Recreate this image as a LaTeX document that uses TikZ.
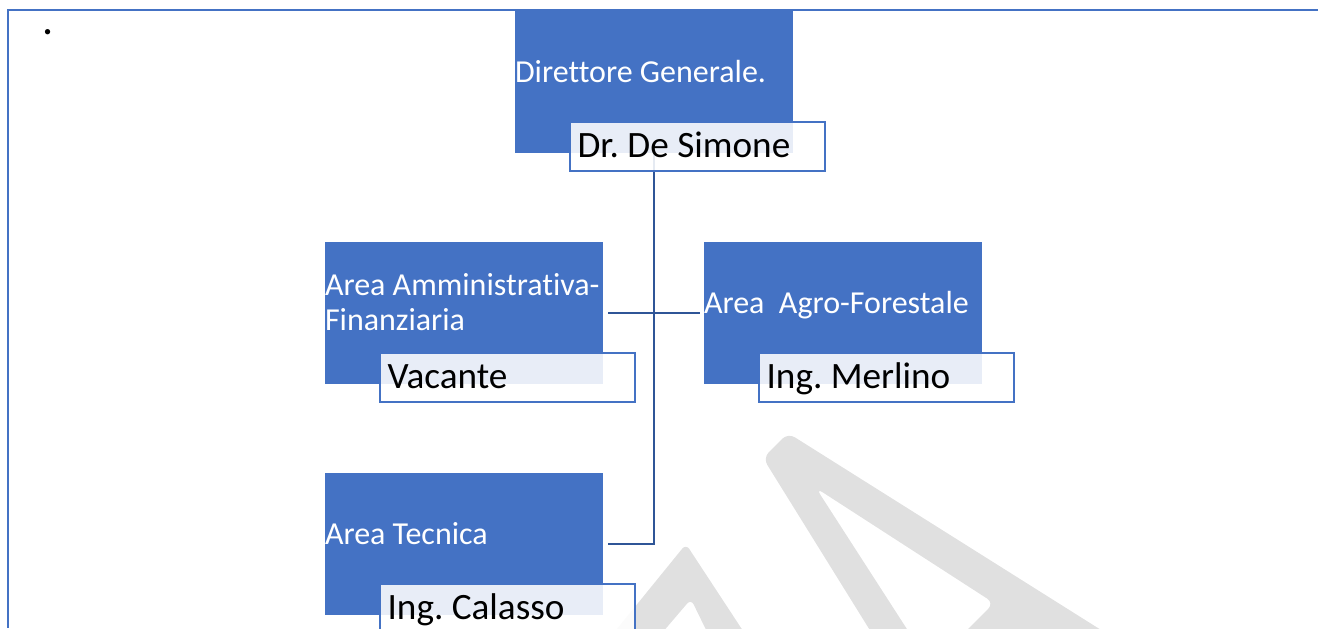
\documentclass[tikz,border=0pt]{standalone}
\usepackage{fontspec}
\setmainfont[Ligatures=NoCommon]{Carlito}
\frenchspacing
\usetikzlibrary{positioning, calc}
\definecolor{areablue}{HTML}{4472C4}
\definecolor{linkblue}{HTML}{2F5597}
\definecolor{markgray}{HTML}{E0E0E0}
\tikzset{
	areabox/.style={fill=areablue, minimum width=139pt, minimum height=71pt, inner sep=0pt},
	areatext/.style={text=white, font=\fontsize{16pt}{17.5pt}\selectfont, inner sep=0pt, align=left},
	namebox/.style={draw=areablue, line width=1pt, fill=white, fill opacity=0.88, text opacity=1, text width=119.5pt, minimum height=24.5pt, inner xsep=4pt, inner ysep=0pt, text height=11pt, text depth=0pt, align=flush left, font=\fontsize{18.6pt}{20pt}\selectfont},
	link/.style={draw=linkblue, line width=1.1pt},
}
\begin{document}
\begin{tikzpicture}[x=0.5pt, y=-0.5pt]
		\useasboundingbox (0, 0) rectangle (1318, 628);
		\begin{scope}
			\clip (0, 0) rectangle (1318, 628);
			\fill[markgray, even odd rule, rounded corners=3pt] (608, 640) -- (686, 544) -- (749, 640) -- cycle (656, 640) -- (691, 599) -- (711, 640) -- cycle;
			\fill[markgray, even odd rule, rounded corners=4pt] (876, 640) -- (763, 458) -- (788, 433) -- (1117, 640) -- cycle (914, 640) -- (816, 488) -- (994, 603) -- (957, 640) -- cycle;
		\end{scope}
		\draw[areablue, line width=1pt] (1318, 9.7) -- (7.5, 9.7) -- (7.5, 628);
		\node[font=\fontsize{22pt}{24pt}\selectfont, inner sep=0pt, anchor=base] (dot) at (48, 34) {.};
		\node[areabox] (dg) at (654, 82) {};
		\node[areabox] (amm) at (464, 313) {};
		\node[areabox] (agro) at (843, 313) {};
		\node[areabox] (tec) at (464, 544) {};
		\draw[link] (dg.south) -- (dg.south |- tec.east) -- ([xshift=2.5pt]tec.east);
		\draw[link] ([xshift=2.5pt]amm.east) -- ([xshift=-2pt]agro.west);
		\node[areatext, anchor=base west] (dglabel) at (dg.west) {Direttore Generale.};
		\node[areatext, anchor=base west] (ammlabel) at ([yshift=-8.5pt]amm.west) {Area Amministrativa-\\Finanziaria};
		\node[areatext, anchor=base west] (agrolabel) at (agro.west) {Area\ \ Agro-Forestale};
		\node[areatext, anchor=base west] (teclabel) at (tec.west) {Area Tecnica};
		\node[namebox, anchor=south west] (dgname) at ([xshift=27pt, yshift=-9.5pt]dg.south west) {Dr. De Simone};
		\node[namebox, anchor=south west] (ammname) at ([xshift=27pt, yshift=-9.5pt]amm.south west) {Vacante};
		\node[namebox, anchor=south west] (agroname) at ([xshift=27pt, yshift=-9.5pt]agro.south west) {Ing. Merlino};
		\node[namebox, anchor=south west] (tecname) at ([xshift=27pt, yshift=-9.5pt]tec.south west) {Ing. Calasso};
	\end{tikzpicture}
\end{document}
